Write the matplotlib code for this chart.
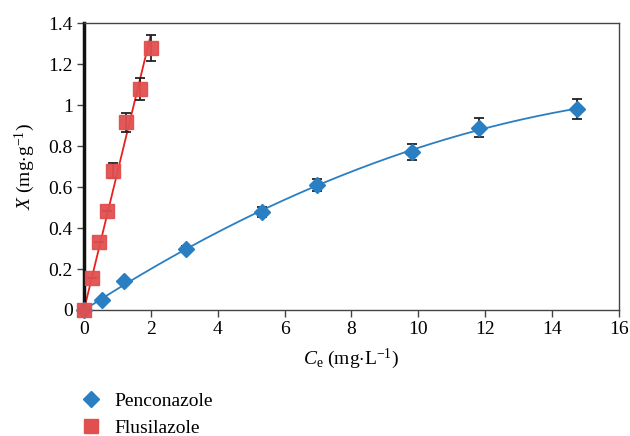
import numpy as np
import matplotlib
matplotlib.use("Agg")
import matplotlib.pyplot as plt
from matplotlib.lines import Line2D

# Data
pen_x = [0.0, 0.53, 1.2, 3.06, 5.32, 6.97, 9.81, 11.8, 14.73]
pen_y = [0.0, 0.05, 0.14, 0.30, 0.48, 0.61, 0.77, 0.89, 0.98]
pen_err = [0.0, 0.0, 0.0, 0.012, 0.024, 0.029, 0.04, 0.045, 0.05]

flu_x = [0.0, 0.23, 0.46, 0.68, 0.88, 1.27, 1.67, 1.99]
flu_y = [0.0, 0.156, 0.33, 0.483, 0.68, 0.915, 1.08, 1.28]
flu_err = [0.0, 0.0, 0.0, 0.0, 0.035, 0.044, 0.053, 0.064]

x_ticks = [0, 2, 4, 6, 8, 10, 12, 14, 16]
y_ticks = [0, 0.2, 0.4, 0.6, 0.8, 1.0, 1.2, 1.4]
y_ticklabels = ["0", "0.2", "0.4", "0.6", "0.8", "1", "1.2", "1.4"]

blue = "#2a7fc2"
red = "#e24f4f"

plt.rcParams['font.family'] = ['Liberation Serif', 'DejaVu Serif']
plt.rcParams['mathtext.fontset'] = 'custom'
plt.rcParams['mathtext.rm'] = 'Liberation Serif'
plt.rcParams['mathtext.it'] = 'Liberation Serif:italic'

fig = plt.figure(figsize=(6.3, 4.36), dpi=100)
ax = fig.add_axes([0.1333, 0.289, 0.8492, 0.658])

# Fitted trendlines (from data)
px = np.array(pen_x); py = np.array(pen_y)
A = np.vstack([px, px**2]).T
coef, *_ = np.linalg.lstsq(A, py, rcond=None)
xs = np.linspace(0, max(pen_x), 200)
ax.plot(xs, coef[0]*xs + coef[1]*xs**2, color=blue, lw=1.3, zorder=2)

fx = np.array(flu_x); fy = np.array(flu_y)
slope = (fx @ fy) / (fx @ fx)
xs2 = np.linspace(0, max(flu_x), 50)
ax.plot(xs2, slope*xs2, color="#e8201f", lw=1.3, zorder=2)

ax.errorbar(pen_x, pen_y, yerr=pen_err, fmt='none', ecolor='#222222',
            elinewidth=1.3, capsize=3.5, capthick=1.3, zorder=3)
ax.errorbar(flu_x, flu_y, yerr=flu_err, fmt='none', ecolor='#222222',
            elinewidth=1.3, capsize=3.5, capthick=1.3, zorder=3)
ax.plot(pen_x, pen_y, 'D', color=blue, ms=8.5, mec=blue, ls='none',
        zorder=4, clip_on=False)
ax.plot(flu_x, flu_y, 's', color=red, ms=9.5, mec=red, ls='none',
        zorder=4, clip_on=False, alpha=0.95)

ax.set_xlim(0, 16)
ax.set_ylim(0, 1.4)
ax.set_xticks(x_ticks)
ax.set_yticks(y_ticks)
ax.set_yticklabels(y_ticklabels)
ax.tick_params(labelsize=14, direction='out', length=5, width=1, color='#444444', pad=3)
for s in ['top', 'right', 'bottom']:
    ax.spines[s].set_color('#444444')
    ax.spines[s].set_linewidth(1.0)
ax.spines['left'].set_color('#111111')
ax.spines['left'].set_linewidth(2.5)

ax.set_xlabel(r"$C_{\mathrm{e}}$ (mg$\cdot$L$^{-1}$)", fontsize=14, labelpad=6)
ax.set_ylabel(r"$X$ (mg$\cdot$g$^{-1}$)", fontsize=14, labelpad=8)

handles = [Line2D([], [], marker='D', color=blue, ls='none', ms=8),
           Line2D([], [], marker='s', color=red, ls='none', ms=10)]
fig.legend(handles, ["Penconazole", "Flusilazole"], loc='upper left',
           bbox_to_anchor=(0.11, 0.122), frameon=False, fontsize=14,
           handletextpad=0.6, labelspacing=0.45, borderpad=0, handlelength=1.2)

fig.savefig("out.png", dpi=100)
